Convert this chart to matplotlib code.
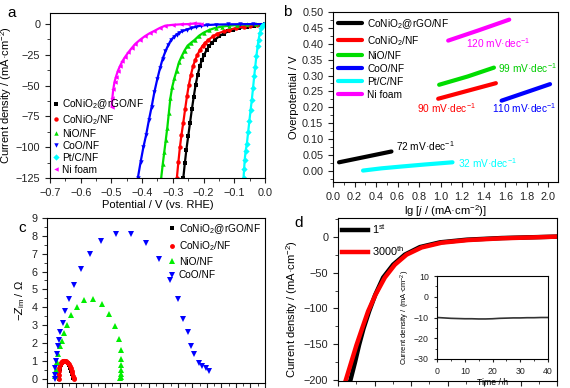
import numpy as np
import matplotlib.pyplot as plt
from matplotlib.ticker import MultipleLocator

plt.rcParams['font.family'] = ['Liberation Sans', 'DejaVu Sans']
plt.rcParams['mathtext.fontset'] = 'custom'
plt.rcParams['mathtext.rm'] = 'Liberation Sans'
plt.rcParams['mathtext.it'] = 'Liberation Sans:italic'
plt.rcParams['font.size'] = 8
plt.rcParams['axes.linewidth'] = 0.8

# ---- panel a: polarization curves ----
labels = ['CoNiO$_2$@rGO/NF', 'CoNiO$_2$/NF', 'NiO/NF', 'CoO/NF', 'Pt/C/NF', 'Ni foam']
colors = ['black', 'red', '#00dd00', 'blue', 'cyan', 'magenta']

a_black_x = [-0.266, -0.261, -0.256, -0.250, -0.244, -0.238, -0.232, -0.226, -0.219, -0.212, -0.205, -0.198, -0.190,
             -0.181, -0.172, -0.163, -0.150, -0.135, -0.120, -0.103, -0.085, -0.06, -0.037, -0.018, 0.0]
a_black_y = [-125, -113, -102, -91, -80, -69, -59, -49.5, -41, -34, -29, -25, -21, -17.5, -15, -12.8, -10, -7.8, -6,
             -4.7, -3.3, -2, -1.3, -0.5, 0]
a_red_x = [-0.287, -0.282, -0.277, -0.272, -0.266, -0.260, -0.254, -0.248, -0.241, -0.234, -0.227, -0.220, -0.212,
           -0.203, -0.194, -0.184, -0.170, -0.155, -0.135, -0.116, -0.095, -0.07, -0.05, -0.025, 0.0]
a_red_y = [-125, -112, -100, -90, -80, -69, -58.5, -49.5, -41, -34, -29, -25, -21, -17.5, -15, -12.8, -10, -7.8, -6,
           -4.7, -3.2, -2, -1.3, -0.5, 0]
a_green_x = [-0.338, -0.333, -0.328, -0.323, -0.318, -0.313, -0.308, -0.302, -0.295, -0.288, -0.280, -0.271, -0.262,
             -0.252, -0.240, -0.229, -0.215, -0.200, -0.181, -0.160, -0.140, -0.116, -0.09, -0.06, -0.03, 0.0]
a_green_y = [-125, -114, -104, -94, -84, -72, -60, -51, -44, -38, -31, -26, -21.5, -17.5, -15, -12.8, -9.5, -7, -4.7,
             -3, -2, -1.3, -0.7, -0.3, -0.1, 0]
a_blue_x = [-0.414, -0.405, -0.396, -0.387, -0.378, -0.369, -0.360, -0.351, -0.342, -0.333, -0.324, -0.315, -0.306,
            -0.297, -0.288, -0.279, -0.270, -0.255, -0.240, -0.225, -0.21, -0.19, -0.16, -0.12, -0.08, -0.04, 0.0]
a_blue_y = [-125, -112, -100, -90, -78, -67, -55, -45, -36, -28, -22, -17, -13, -10.5, -8.5, -7, -5.8, -4.5, -3.2,
            -2.2, -1.3, -0.8, -0.4, -0.2, -0.1, 0, 0]
a_cyan_x = [-0.070, -0.068, -0.066, -0.063, -0.059, -0.055, -0.051, -0.047, -0.043, -0.039, -0.035, -0.032, -0.028,
            -0.024, -0.021, -0.017, -0.013, -0.009, -0.005, 0.0]
a_cyan_y = [-125, -118, -110, -103, -97, -88, -79, -70, -61.6, -52, -42, -35, -26, -18, -12.8, -7.5, -3.5, -1.5,
            -0.5, 0]
a_mag_x = [-0.499, -0.497, -0.494, -0.490, -0.485, -0.479, -0.472, -0.464, -0.455, -0.445, -0.434, -0.422, -0.407,
           -0.392, -0.376, -0.360, -0.343, -0.325, -0.300, -0.275, -0.250, -0.230, -0.210]
a_mag_y = [-67, -60, -53, -47, -42.6, -38, -34, -30, -26.5, -23, -19.5, -16, -12.8, -10, -7.5, -5.5, -3.2, -1.3,
           -0.6, -0.2, 0, 0.5, 0.3]

# ---- panel b: Tafel ----
b_black_x, b_black_y = [0.056, 0.3, 0.543], [0.027, 0.044, 0.061]
b_red_x, b_red_y = [0.977, 1.25, 1.513], [0.227, 0.252, 0.276]
b_green_x, b_green_y = [0.986, 1.25, 1.495], [0.271, 0.297, 0.325]
b_blue_x, b_blue_y = [1.566, 1.8, 2.016], [0.221, 0.248, 0.273]
b_cyan_x, b_cyan_y = [0.279, 0.45, 0.636, 0.85, 1.11], [0.001, 0.008, 0.0137, 0.020, 0.027]
b_mag_x, b_mag_y = [1.07, 1.35, 1.637], [0.41, 0.442, 0.476]
slopes = ['72', '90', '99', '110', '32', '120']

# ---- panel c: Nyquist ----
c_labels = labels[:4]
c_red_x = [0.80, 0.81, 0.83, 0.86, 0.90, 0.95, 1.01, 1.08, 1.15, 1.23, 1.30, 1.37, 1.44, 1.51, 1.57, 1.63, 1.69,
           1.74, 1.79, 1.83, 1.86]
c_red_y = [0.0, 0.2, 0.4, 0.6, 0.75, 0.87, 0.95, 0.99, 1.0, 1.0, 0.98, 0.94, 0.88, 0.80, 0.70, 0.58, 0.44, 0.30,
           0.16, 0.05, 0.0]
c_black_x = [0.82, 0.84, 0.88, 0.94, 1.02, 1.12, 1.22, 1.32, 1.42, 1.52, 1.60, 1.68, 1.74, 1.79]
c_black_y = [0.0, 0.3, 0.55, 0.75, 0.88, 0.94, 0.95, 0.92, 0.85, 0.74, 0.60, 0.42, 0.25, 0.05]
c_green_x = [0.56, 0.63, 0.70, 0.79, 0.90, 1.01, 1.15, 1.35, 1.66, 2.07, 2.58, 3.17, 3.78, 4.29, 4.67, 4.92, 5.06,
             5.10, 5.12, 5.12, 5.10, 5.06, 4.99]
c_green_y = [0.13, 0.5, 0.93, 1.4, 1.85, 2.13, 2.56, 3.02, 3.54, 4.01, 4.38, 4.46, 4.18, 3.64, 2.93, 2.24, 1.59,
             1.12, 0.78, 0.5, 0.28, 0.09, 0.04]
c_blue_x = [0.52, 0.52, 0.56, 0.63, 0.67, 0.74, 0.81, 0.92, 1.08, 1.26, 1.53, 1.87, 2.31, 2.94, 3.73, 4.72, 5.75,
            6.81, 7.71, 8.45, 9.01, 9.39, 9.69, 9.89, 10.13, 10.45, 10.67, 10.92, 11.15]
c_blue_y = [0.0, 0.22, 0.6, 0.97, 1.4, 1.8, 2.15, 2.6, 3.1, 3.77, 4.48, 5.26, 6.16, 7.0, 7.69, 8.12, 8.1, 7.6, 6.72,
            5.5, 4.48, 3.36, 2.6, 1.85, 1.4, 0.88, 0.73, 0.6, 0.41]

# ---- panel d: stability ----
d_first_x = [-0.283, -0.2765, -0.2712, -0.2651, -0.2574, -0.2490, -0.2382, -0.2245, -0.2084, -0.1878, -0.1603,
             -0.1237, -0.0758, -0.0298, -0.0024]
d_first_y = [-200, -174, -151, -128, -104, -81, -57, -39, -25, -14.5, -7.9, -4.2, -1.9, -0.7, 0]
d_last_x = [-0.2894, -0.2816, -0.2747, -0.2670, -0.2588, -0.2487, -0.2359, -0.2221, -0.2060, -0.1854, -0.1580,
            -0.1214, -0.0758, -0.0298, -0.0024]
d_last_y = [-200, -174, -151, -128, -104, -81, -57, -39, -25, -15, -8.4, -4.7, -2.3, -0.9, 0]
inset_t = [0, 2.5, 5, 7.5, 10, 12.5, 15, 17.5, 20, 22.5, 25, 27.5, 30, 32.5, 35, 37.5, 40]
inset_j = [-10.0, -10.2, -10.4, -10.5, -10.6, -10.6, -10.7, -10.7, -10.6, -10.4, -10.3, -10.2, -10.2, -10.1, -10.1,
           -10.0, -10.0]

W, H = 570, 388
fig = plt.figure(figsize=(W / 100, H / 100), dpi=100)


def px_axes(l, t, r, b):
    return fig.add_axes([l / W, 1 - b / H, (r - l) / W, (b - t) / H])


def style(ax, fs=7.8):
    ax.tick_params(which='both', direction='out', top=False, right=False, labelsize=fs, colors='#222222')
    ax.tick_params(which='major', length=3.5, width=0.8)
    ax.tick_params(which='minor', length=2, width=0.6)


# a
ax = px_axes(50, 13, 265, 178)
a_series = [(a_black_x, a_black_y, 's'), (a_red_x, a_red_y, 'o'), (a_green_x, a_green_y, '^'),
            (a_blue_x, a_blue_y, 'v'), (a_cyan_x, a_cyan_y, 'D'), (a_mag_x, a_mag_y, '<')]
for (x, y, m), c, lab in zip(a_series, colors, labels):
    ax.plot(x, y, color=c, lw=1.6, marker=m, ms=3.2, mew=0, label=lab)
ax.set_xlim(-0.7, 0.0)
ax.set_ylim(-125, 9)
ax.xaxis.set_major_locator(MultipleLocator(0.1))
ax.xaxis.set_minor_locator(MultipleLocator(0.05))
ax.yaxis.set_major_locator(MultipleLocator(25))
ax.yaxis.set_minor_locator(MultipleLocator(12.5))
ax.xaxis.set_major_formatter(plt.FuncFormatter(lambda v, p: ('%.1f' % v).replace('-', '\u2212') if abs(v) > 1e-9 else '0.0'))
style(ax)
ax.set_xlabel('Potential / V (vs. RHE)', labelpad=2)
ax.set_ylabel('Current density / (mA·cm$^{-2}$)', labelpad=1)
leg = ax.legend(loc='lower left', frameon=False, fontsize=7.3, handlelength=0.6, handletextpad=0.3,
                labelspacing=0.2, borderaxespad=0.2, borderpad=0.1)
for h in leg.legend_handles:
    h.set_linestyle('None')
ax.text(-0.2, 1.0, 'a', transform=ax.transAxes, fontsize=11, va='center')

# b
ax = px_axes(333, 12, 558, 182)
b_series = [(b_black_x, b_black_y), (b_red_x, b_red_y), (b_green_x, b_green_y), (b_blue_x, b_blue_y),
            (b_cyan_x, b_cyan_y), (b_mag_x, b_mag_y)]
for (x, y), c, lab in zip(b_series, colors, labels):
    ax.plot(x, y, color=c, lw=3, solid_capstyle='round', label=lab)
ax.set_xlim(0, 2.09)
ax.set_ylim(-0.035, 0.5)
ax.xaxis.set_major_locator(MultipleLocator(0.2))
ax.xaxis.set_minor_locator(MultipleLocator(0.1))
ax.yaxis.set_major_locator(MultipleLocator(0.05))
ax.yaxis.set_minor_locator(MultipleLocator(0.025))
ax.yaxis.set_major_formatter(plt.FormatStrFormatter('%.2f'))
ax.xaxis.set_major_formatter(plt.FormatStrFormatter('%.1f'))
style(ax)
ax.set_xlabel('lg [$j$ / (mA·cm$^{-2}$)]', labelpad=1)
ax.set_ylabel('Overpotential / V', labelpad=2)
ax.legend(loc='upper left', frameon=False, fontsize=7.3, handlelength=2.4, handletextpad=0.5,
          labelspacing=0.3, borderaxespad=0.3, borderpad=0.2)
tafel_pos = [(0.583, 0.077, 'black'), (0.78, 0.198, 'red'), (1.535, 0.325, '#00cc00'), (1.473, 0.198, 'blue'),
             (1.157, 0.024, 'cyan'), (1.24, 0.402, 'magenta')]
for s, (tx, ty, c) in zip(slopes, tafel_pos):
    ax.text(tx, ty, s + ' mV·dec$^{-1}$', color=c, fontsize=7.3, ha='left', va='center')
ax.text(-0.22, 1.0, 'b', transform=ax.transAxes, fontsize=11, va='center')

# c
ax = px_axes(47, 218, 265, 383)
ax.plot(c_black_x, c_black_y, 's', color='black', ms=3, mew=0, label=c_labels[0])
ax.plot(c_red_x, c_red_y, 'o', color='red', ms=3.5, mew=0, label=c_labels[1])
ax.plot(c_red_x, c_red_y, '-', color='red', lw=2.5)
ax.plot(c_green_x, c_green_y, '^', color='#00ee00', ms=4, mew=0, label=c_labels[2])
ax.plot(c_blue_x, c_blue_y, 'v', color='blue', ms=4, mew=0, label=c_labels[3])
ax.set_xlim(0, 15)
ax.set_ylim(-0.25, 9)
ax.xaxis.set_major_locator(MultipleLocator(1))
ax.xaxis.set_minor_locator(MultipleLocator(0.5))
ax.yaxis.set_major_locator(MultipleLocator(1))
ax.yaxis.set_minor_locator(MultipleLocator(0.5))
style(ax)
ax.tick_params(labelbottom=False)
ax.set_ylabel('$-Z_{\\mathrm{im}}$ / Ω', labelpad=3)
ax.legend(loc='upper right', frameon=False, fontsize=7.3, handlelength=0.6, handletextpad=0.4,
          labelspacing=0.35, borderaxespad=0.2, borderpad=0.2)
ax.text(-0.13, 0.94, 'c', transform=ax.transAxes, fontsize=11, va='center')

# d
ax = px_axes(338, 218, 557, 381)
ax.plot(d_first_x, d_first_y, color='black', lw=3.2, label='1$^{\\mathrm{st}}$')
ax.plot(d_last_x, d_last_y, color='red', lw=3.2, label='3000$^{\\mathrm{th}}$')
ax.set_xlim(-0.3, 0.0)
ax.set_ylim(-201, 26)
ax.xaxis.set_major_locator(MultipleLocator(0.05))
ax.xaxis.set_minor_locator(MultipleLocator(0.025))
ax.yaxis.set_major_locator(MultipleLocator(50))
ax.yaxis.set_minor_locator(MultipleLocator(25))
style(ax)
ax.tick_params(labelbottom=False)
ax.set_ylabel('Current density / (mA·cm$^{-2}$)')
ax.yaxis.set_label_coords(-0.175, 0.44)
ax.legend(loc='upper left', frameon=False, fontsize=7.8, handlelength=2.4, handletextpad=0.3,
          labelspacing=0.7, borderaxespad=0.3, borderpad=0.1)
ax.text(-0.2, 0.97, 'd', transform=ax.transAxes, fontsize=11, va='center')

ins = px_axes(437, 276, 548, 359)
ins.plot(inset_t, inset_j, color='#333333', lw=1.2)
ins.set_xlim(0, 40)
ins.set_ylim(-30, 10)
ins.xaxis.set_major_locator(MultipleLocator(10))
ins.xaxis.set_minor_locator(MultipleLocator(5))
ins.yaxis.set_major_locator(MultipleLocator(10))
ins.yaxis.set_minor_locator(MultipleLocator(5))
style(ins, fs=6.3)
ins.tick_params(which='major', length=2.5)
ins.tick_params(which='minor', length=1.5)
ins.set_xlabel('Time / h', fontsize=6.3, labelpad=1)
ins.set_ylabel('Current density / (mA·cm$^{-2}$)', fontsize=5.5, labelpad=1)

fig.savefig('out.png', dpi=100)
